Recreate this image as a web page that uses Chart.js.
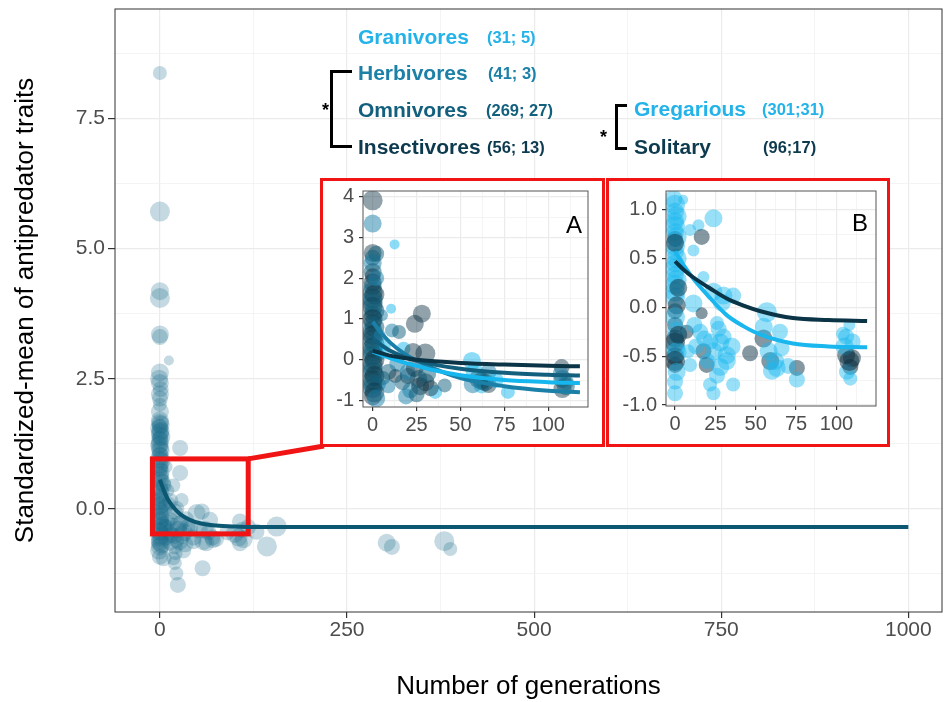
<!DOCTYPE html>
<html>
<head>
<meta charset="utf-8">
<script src="https://cdn.jsdelivr.net/npm/chart.js@4.4.0/dist/chart.umd.min.js"></script>
<style>
  html, body { margin: 0; padding: 0; background: #fff; }
  body { width: 945px; height: 702px; position: relative; overflow: hidden; font-family: "Liberation Sans", Arial, sans-serif; }
  #main { position: absolute; left: 0; top: 0; }
  .inset { position: absolute; top: 178px; height: 263px; border: 3px solid #f01414; background: #fff; }
  .inset canvas { display: block; }
  .lbl { position: absolute; font-weight: bold; white-space: nowrap; line-height: 24px; }
  .name { font-size: 21px; }
  .num { font-size: 16.5px; }
  .bracket { position: absolute; border: 3px solid #000; border-right: none; }
  .star { position: absolute; font-weight: bold; font-size: 18px; line-height: 18px; color: #000; }
  .tag { position: absolute; font-size: 24px; line-height: 24px; color: #000; }
</style>
</head>
<body>
<canvas id="main" width="945" height="702"></canvas>
<div class="inset" style="left:320px; width:279px;"><canvas id="insetA" width="279" height="263"></canvas></div>
<div class="inset" style="left:606px; width:278px;"><canvas id="insetB" width="278" height="263"></canvas></div>
<div class="tag" style="left:566px; top:213px;">A</div>
<div class="tag" style="left:852px; top:211px;">B</div>

<div class="lbl name" style="left:358px; top:25px; color:#23b3e9;">Granivores</div>
<div class="lbl num" style="left:487px; top:25px; color:#23b3e9;">(31; 5)</div>
<div class="lbl name" style="left:358px; top:61px; color:#1c80a7;">Herbivores</div>
<div class="lbl num" style="left:488px; top:61px; color:#1c80a7;">(41; 3)</div>
<div class="lbl name" style="left:358px; top:98px; color:#135f7e;">Omnivores</div>
<div class="lbl num" style="left:486px; top:98px; color:#135f7e;">(269; 27)</div>
<div class="lbl name" style="left:358px; top:135px; color:#0d3a4e;">Insectivores</div>
<div class="lbl num" style="left:487px; top:135px; color:#0d3a4e;">(56; 13)</div>
<div class="bracket" style="left:330px; top:70px; width:19px; height:72px;"></div>
<div class="star" style="left:322px; top:101px;">*</div>

<div class="lbl name" style="left:634px; top:97px; color:#23b3e9;">Gregarious</div>
<div class="lbl num" style="left:762px; top:97px; color:#23b3e9;">(301;31)</div>
<div class="lbl name" style="left:634px; top:135px; color:#0d3a4e;">Solitary</div>
<div class="lbl num" style="left:763px; top:135px; color:#0d3a4e;">(96;17)</div>
<div class="bracket" style="left:615px; top:104px; width:9px; height:40px;"></div>
<div class="star" style="left:600px; top:128px;">*</div>

<script>
// ---- main panel: all studies ----
const mainX = [0, 0, 0, 0, 0, 0, 12, 0, -1, 0, 1, 0, 0, 0, 0, 0, 0, 1, 0, 0, 0, 27, 0, 0, 0, 9, 0, 0, 27, 0,
               0, 5, 0, 0, 29, 0, 12, 0, 0, 20, 49, 56, 0, 15, 35, 67, 107, 0, 25, 0, 156, 40, 60, 110, 0, 129, 15, 30, 0, 70,
               105, 22, 71, 0, 62, 107, 303, 310, 380, 388, 0, 20, 143, 31, 0, 20, 22, 24, 57, 8, 45, 90,
               0, 1, -1, 0, 2, 0, -1, 1, 0, 2, -1, 1, 0, 3, -1, 1, 0, 2, -1, 1, 0, 3, -1, 1, 0, 2, -1,
               6, 8, 10, 12, 14, 17, 19, 21, 24, 26, 28, 32, 34, 37, 8, 10, 14, 18, 22, 45, 52, 58, 65, 75, 100, 112, 118, 5, 18];
const mainY = [8.37, 5.71, 4.18, 4.05, 3.35, 3.30, 2.85, 2.62, 2.50, 2.42, 2.30, 2.20, 2.12, 2.00, 1.87, 1.65, 1.58, 1.50, 1.42, 1.35, 1.25, 1.17, 1.15, 1.05, 0.95, 0.81, 0.85, 0.75, 0.69, 0.65,
               0.55, 0.45, 0.35, 0.25, 0.17, 0.15, 0.10, 0.05, -0.05, -0.05, -0.08, -0.05, -0.15, -0.20, -0.20, -0.21, -0.24, -0.25, -0.30, -0.35, -0.34, -0.38, -0.40, -0.40, -0.45, -0.44, -0.50, -0.50, -0.55, -0.55,
               -0.55, -0.60, -0.60, -0.65, -0.66, -0.66, -0.65, -0.73, -0.62, -0.77, -0.72, -0.72, -0.72, -0.80, -0.92, -1.04, -1.24, -1.46, -1.14, -0.35, -0.62, -0.45,
               1.70, 1.62, 1.55, 1.47, 1.38, 1.31, 1.22, 1.12, 1.01, 0.92, 0.80, 0.71, 0.60, 0.50, 0.40, 0.30, 0.20, 0.08, -0.02, -0.12, -0.22, -0.33, -0.42, -0.52, -0.61, -0.68, -0.80,
               -0.35, -0.55, -0.25, -0.45, -0.65, -0.32, -0.52, -0.85, -0.40, -0.62, -0.28, -0.45, -0.68, -0.35, 0.05, 0.35, 0.15, 0.45, 0.00, -0.55, -0.40, -0.62, -0.45, -0.58, -0.48, -0.58, -0.35, -0.95, -0.95];
const mainW = [6, 9, 8, 9, 8, 7, 4, 8, 8, 8, 7, 8, 7, 6, 8, 8, 7, 8, 8, 7, 8, 7, 8, 7, 8, 5, 8, 7, 7, 8,
               8, 7, 8, 7, 6, 8, 6, 8, 8, 7, 8, 7, 8, 6, 7, 7, 7, 8, 8, 8, 9, 7, 8, 7, 8, 7, 7, 8, 8, 7,
               8, 7, 7, 8, 7, 7, 8, 7, 9, 6, 8, 7, 9, 7, 7, 6, 6, 7, 7, 7, 7, 7,
               8, 8, 8, 8, 8, 8, 8, 8, 8, 8, 8, 8, 8, 8, 8, 8, 8, 8, 8, 8, 8, 8, 8, 8, 8, 8, 8,
               7, 7, 7, 7, 7, 7, 7, 6, 8, 8, 7, 8, 7, 7, 7, 6, 7, 6, 7, 7, 8, 8, 7, 7, 8, 8, 7, 7, 6];
const mainFitX = [0, 4, 10, 18, 27, 40, 55, 75, 100, 130, 200, 1000];
const mainFitY = [0.56, 0.40, 0.20, 0.03, -0.10, -0.21, -0.28, -0.32, -0.34, -0.35, -0.35, -0.35];
const zoomBox = { xMin: -10, xMax: 118, yMin: -0.48, yMax: 0.96 };

const mainXTicks = [0, 125, 250, 375, 500, 625, 750, 875, 1000];
const mainXLabels = [0, 250, 500, 750, 1000];
const mainYTicks = [-1.25, 0, 1.25, 2.5, 3.75, 5, 6.25, 7.5, 8.75];
const mainYLabels = [0, 2.5, 5, 7.5];

// ---- inset A: diet (0 Granivores, 1 Herbivores, 2 Omnivores, 3 Insectivores) ----
const diets = ['Granivores', 'Herbivores', 'Omnivores', 'Insectivores'];
const aX = [0, 0, 12.5, 0, 0, 0, 0, 0, 0, 0, 0, 0, 10.5, 0, 5.3, 28, 24, 11, 15, 0,
            0, 0, 0, 0, 0, 0, 0, 0, 0, 17.6, 23, 30, 9, 14, 26, 30, 21.4, 35.6, 41, 56.5,
            60, 62, 66, 77, 107.6, 108, 108, 110, 3, 5, 64, 20,
            0, 1, 0, 1, 0, 1, 0, 1, 0, 1, 0, 1, 0, 1, 2, 2, 2,
            6, 9, 13, 17, 20, 24, 27, 31, 33, 19, 25, 4, 7,
            58, 62, 66, 70, 57, 107, 110];
const aY = [3.91, 3.34, 2.83, 2.62, 2.50, 2.37, 2.15, 2.05, 1.90, 1.66, 1.50, 1.30, 1.25, 1.10, 1.09, 1.13, 0.88, 0.72, 0.68, 0.90,
            0.70, 0.50, 0.30, 0.10, -0.10, -0.30, -0.50, -0.70, -0.90, 0.27, 0.19, 0.15, -0.30, -0.10, -0.47, -0.55, -0.75, -0.79, -0.63, -0.03,
            -0.47, -0.63, -0.30, -0.79, -0.18, -0.47, -0.72, -0.55, -0.60, 0.20, -0.55, -0.40,
            1.80, 1.60, 1.40, 1.20, 1.00, 0.80, 0.60, 0.40, 0.20, 0.00, -0.20, -0.40, -0.60, -0.80, -0.95, 2.00, 2.60,
            -0.45, -0.65, -0.40, -0.55, -0.30, -0.20, -0.65, -0.35, -0.70, -0.90, -0.85, 0.60, 0.35,
            -0.30, -0.52, -0.62, -0.50, -0.60, -0.35, -0.65];
const aW = [9, 8, 4, 8, 7, 8, 8, 7, 8, 9, 9, 9, 4, 8, 5, 8, 8, 6, 6, 8,
            9, 9, 9, 9, 9, 9, 9, 9, 8, 6, 8, 9, 7, 7, 8, 8, 7, 6, 6, 8,
            8, 7, 7, 6, 7, 8, 8, 7, 7, 7, 8, 7,
            8, 9, 9, 9, 9, 9, 9, 9, 9, 9, 9, 9, 9, 9, 8, 7, 7,
            6, 6, 6, 7, 7, 8, 8, 8, 7, 7, 7, 5, 5,
            8, 8, 7, 7, 8, 7, 8];
const aDiet = [3, 1, 0, 3, 2, 1, 2, 3, 3, 2, 2, 3, 0, 2, 1, 3, 3, 1, 2, 2,
               2, 2, 3, 2, 3, 2, 3, 2, 3, 0, 3, 3, 2, 1, 2, 3, 1, 0, 2, 0,
               3, 0, 1, 0, 3, 2, 3, 1, 1, 0, 2, 3,
               2, 3, 2, 2, 3, 2, 3, 2, 2, 3, 2, 3, 2, 3, 1, 1, 2,
               2, 1, 3, 2, 1, 3, 3, 2, 3, 1, 2, 1, 0,
               0, 2, 3, 0, 1, 1, 2];
const aFitX = [0, 5, 10, 18, 25, 35, 50, 75, 100, 118];
const aFitGran = [0.20, 0.12, 0.04, -0.07, -0.15, -0.26, -0.38, -0.50, -0.55, -0.57];
const aFitHerb = [0.93, 0.65, 0.42, 0.15, -0.02, -0.22, -0.45, -0.65, -0.76, -0.80];
const aFitOmni = [0.52, 0.36, 0.22, 0.07, -0.02, -0.12, -0.22, -0.32, -0.37, -0.39];
const aFitIns = [0.22, 0.16, 0.10, 0.04, 0.00, -0.04, -0.08, -0.12, -0.15, -0.16];

// ---- inset B: sociality (0 Gregarious, 1 Solitary) ----
const bX = [-1, 5, 0, 0, 0, 23.8, 14.5, 9.3, 16.5, 11.4, 0, 0, 0, 0, 0, 17.6, 0, 23.8, 30, 11.4,
            0, 0, 16.5, 26, 15.5, 7.2, 56.9, 65, 54.8, 0, 0, 0, 0, 17.6, 46.5, 32, 19.6, 28, 59, 63,
            75.5, 75.5, 104, 108, 106, 109.6, 108.6, 106.5, 108.6, 21.7, 0, 0, 23.8, 36, 9.3, 22, 30, 35,
            0, 1, 0, 1, 0, 1, 0, 1, 0, 1, 0, 1, 0, 1, 0, 1, 0, 2, 2,
            13, 18, 24, 28, 32, 26, 20, 12, 8, 29, 36, 27,
            58, 62, 66, 70, 60, 55, 105, 110, 108, 106];
const bY = [1.11, 1.10, 0.98, 0.88, 0.77, 0.91, 0.84, 0.79, 0.72, 0.58, 0.70, 0.57, 0.45, 0.33, 0.23, 0.31, 0.16, 0.16, 0.12, 0.04,
            -0.04, -0.18, -0.06, -0.16, -0.25, -0.25, -0.05, -0.25, -0.32, -0.32, -0.42, -0.50, -0.59, -0.45, -0.47, -0.49, -0.59, -0.61, -0.55, -0.62,
            -0.62, -0.74, -0.27, -0.18, -0.49, -0.52, -0.61, -0.66, -0.73, -0.79, -0.76, -0.88, -0.88, -0.79, -0.59, -0.35, -0.30, -0.40,
            1.05, 0.93, 0.83, 0.72, 0.63, 0.50, 0.40, 0.28, 0.10, 0.02, -0.10, -0.25, -0.36, -0.46, -0.55, -0.66, 0.66, -0.28, 0.20,
            -0.40, -0.32, -0.45, -0.36, -0.55, -0.70, -0.55, -0.18, -0.45, 0.05, 0.12, -0.22,
            -0.45, -0.55, -0.42, -0.60, -0.65, -0.20, -0.40, -0.35, -0.55, -0.30];
const bW = [8, 4, 8, 8, 8, 8, 5, 5, 7, 5, 7, 8, 8, 8, 9, 5, 9, 8, 8, 8,
            7, 7, 5, 6, 7, 6, 9, 7, 8, 8, 9, 8, 7, 7, 7, 8, 7, 8, 8, 8,
            7, 7, 6, 5, 8, 8, 7, 7, 6, 6, 7, 7, 6, 6, 6, 7, 7, 8,
            9, 9, 9, 9, 9, 9, 9, 9, 9, 8, 9, 9, 9, 9, 9, 8, 8, 8, 8,
            7, 7, 8, 8, 8, 7, 7, 7, 6, 8, 7, 7,
            8, 8, 7, 7, 8, 8, 8, 7, 9, 7];
const bSocial = [0, 0, 0, 0, 0, 0, 0, 0, 1, 0, 1, 0, 0, 0, 0, 0, 0, 0, 0, 0,
                 1, 1, 1, 0, 0, 1, 0, 0, 1, 1, 0, 1, 1, 1, 1, 0, 1, 0, 1, 0,
                 1, 0, 0, 0, 1, 1, 1, 0, 0, 0, 0, 0, 0, 0, 0, 0, 0, 0,
                 0, 0, 0, 0, 0, 0, 0, 0, 0, 1, 0, 0, 1, 0, 1, 0, 1, 1, 1,
                 0, 0, 0, 0, 0, 0, 0, 0, 0, 0, 0, 0,
                 0, 0, 0, 0, 0, 0, 0, 0, 1, 0];
const bFitX = [0, 5, 11, 22, 32, 42, 53, 73, 95, 119];
const bFitGreg = [0.57, 0.44, 0.30, 0.09, -0.08, -0.19, -0.28, -0.37, -0.40, -0.41];
const bFitSol = [0.47, 0.39, 0.31, 0.19, 0.09, 0.02, -0.04, -0.11, -0.13, -0.14];

const insetXTicks = [0, 12.5, 25, 37.5, 50, 62.5, 75, 87.5, 100, 112.5];
const insetXLabels = [0, 25, 50, 75, 100];
const aYTicks = [-1, -0.5, 0, 0.5, 1, 1.5, 2, 2.5, 3, 3.5, 4];
const aYLabels = [-1, 0, 1, 2, 3, 4];
const bYTicks = [-1, -0.75, -0.5, -0.25, 0, 0.25, 0.5, 0.75, 1];
const bYLabels = [-1, -0.5, 0, 0.5, 1];

const COLORS = {
    mainPoint: 'rgba(18, 105, 135, 0.25)',
    mainLine: '#0c5872',
    dietPoint: ['rgba(0, 178, 238, 0.45)', 'rgba(26, 128, 170, 0.5)', 'rgba(16, 94, 122, 0.5)', 'rgba(12, 48, 66, 0.45)'],
    dietLine: ['#16b6ee', '#1a80a8', '#135f7e', '#0b3447'],
    socialPoint: ['rgba(26, 183, 239, 0.45)', 'rgba(12, 48, 66, 0.5)'],
    socialLine: ['#1ab6ee', '#0b3447'],
    red: '#f01414',
    grid: '#ebebeb',
    tickText: '#4d4d4d'
};

Chart.defaults.font.family = '"Liberation Sans", Arial, sans-serif';

const pts = (xs, ys) => xs.map((x, i) => ({ x, y: ys[i] }));
const radius = w => ctx => 1 + w[ctx.dataIndex];

function axisTicks(list) {
    return axis => { axis.ticks = list.map(v => ({ value: v })); };
}

function gridFor(majors, tickLen) {
    return {
        color: c => majors.includes(c.tick.value) ? COLORS.grid : '#f1f1f1',
        lineWidth: c => majors.includes(c.tick.value) ? 1.2 : 0.8,
        tickColor: c => majors.includes(c.tick.value) ? '#333' : 'rgba(0,0,0,0)',
        tickLength: tickLen,
        drawTicks: true
    };
}

// fix axis box sizes and drop the label overhang padding
const fitX = h => s => { s.height = h; s.paddingLeft = 0; s.paddingRight = 0; };
const fitY = w => s => { s.width = w; s.paddingTop = 0; s.paddingBottom = 0; };

const panelBorder = {
    id: 'panelBorder',
    afterDraw(chart, args, opts) {
        const { ctx, chartArea: a } = chart;
        ctx.save();
        ctx.strokeStyle = opts.color || '#333';
        ctx.lineWidth = 1;
        ctx.strokeRect(a.left, a.top, a.right - a.left, a.bottom - a.top);
        ctx.restore();
    }
};

// red zoom box on the main panel, drawn after the points but under the fit line
const zoomFrame = {
    id: 'zoomFrame',
    afterDatasetDraw(chart, args) {
        if (args.index !== 0) return;
        const { ctx, scales: { x, y } } = chart;
        const l = x.getPixelForValue(zoomBox.xMin), r = x.getPixelForValue(zoomBox.xMax);
        const t = y.getPixelForValue(zoomBox.yMax), b = y.getPixelForValue(zoomBox.yMin);
        ctx.save();
        ctx.strokeStyle = COLORS.red;
        ctx.lineWidth = 5;
        ctx.strokeRect(l, t, r - l, b - t);
        ctx.beginPath();
        ctx.moveTo(r, t);
        ctx.lineTo(324, 446);
        ctx.stroke();
        ctx.restore();
    }
};

new Chart(document.getElementById('main'), {
    type: 'scatter',
    data: {
        datasets: [
            {
                data: pts(mainX, mainY),
                backgroundColor: COLORS.mainPoint,
                borderWidth: 0,
                pointRadius: radius(mainW),
                order: 1
            },
            {
                data: pts(mainFitX, mainFitY),
                showLine: true,
                borderColor: COLORS.mainLine,
                borderWidth: 4,
                pointRadius: 0,
                cubicInterpolationMode: 'monotone',
                order: 0
            }
        ]
    },
    options: {
        responsive: false,
        animation: false,
        layout: { autoPadding: false, padding: { top: 9, right: 3, left: 0, bottom: 0 } },
        plugins: { legend: { display: false }, tooltip: { enabled: false }, panelBorder: { color: '#333' } },
        scales: {
            x: {
                type: 'linear', min: -60, max: 1045,
                afterBuildTicks: axisTicks(mainXTicks),
                afterFit: fitX(90),
                ticks: {
                    autoSkip: false, maxRotation: 0, minRotation: 0, padding: 0,
                    color: COLORS.tickText,
                    font: { family: '"Liberation Sans Narrow", "Liberation Sans", Arial, sans-serif', size: 21 },
                    callback: v => mainXLabels.includes(v) ? String(v) : ''
                },
                grid: gridFor(mainXLabels, 6),
                border: { display: false },
                title: { display: true, text: 'Number of generations', color: '#000', font: { size: 26 }, padding: { top: 0, bottom: 0 } }
            },
            y: {
                type: 'linear', min: -1.98, max: 9.6,
                afterBuildTicks: axisTicks(mainYTicks),
                afterFit: fitY(115),
                ticks: {
                    autoSkip: false, padding: 3,
                    color: COLORS.tickText,
                    font: { size: 21 },
                    callback: v => mainYLabels.includes(v) ? v.toFixed(1) : ''
                },
                grid: gridFor(mainYLabels, 7),
                border: { display: false },
                title: { display: true, text: 'Standardized-mean of antipredator traits', color: '#000', font: { size: 26 }, padding: { top: 10, bottom: 0 } }
            }
        }
    },
    plugins: [zoomFrame, panelBorder]
});

function insetChart(id, cfg) {
    return new Chart(document.getElementById(id), {
        type: 'scatter',
        data: { datasets: cfg.datasets },
        options: {
            responsive: false,
            animation: false,
            layout: { autoPadding: false, padding: { top: 10, right: cfg.padRight, left: 0, bottom: 0 } },
            plugins: { legend: { display: false }, tooltip: { enabled: false }, panelBorder: { color: '#555' } },
            scales: {
                x: {
                    type: 'linear', min: cfg.xMin, max: cfg.xMax,
                    afterBuildTicks: axisTicks(insetXTicks),
                    afterFit: fitX(cfg.xAxisH),
                    ticks: {
                        autoSkip: false, maxRotation: 0, minRotation: 0, padding: 2,
                        color: COLORS.tickText, font: { size: 20 },
                        callback: v => insetXLabels.includes(v) ? String(v) : ''
                    },
                    grid: gridFor(insetXLabels, 4),
                    border: { display: false }
                },
                y: {
                    type: 'linear', min: cfg.yMin, max: cfg.yMax,
                    afterBuildTicks: axisTicks(cfg.yTicks),
                    afterFit: fitY(cfg.yAxisW),
                    ticks: {
                        autoSkip: false, padding: 5,
                        color: COLORS.tickText, font: { size: 20 },
                        callback: v => cfg.yLabels.includes(v) ? cfg.fmt(v) : ''
                    },
                    grid: gridFor(cfg.yLabels, 4),
                    border: { display: false }
                }
            }
        },
        plugins: [panelBorder]
    });
}

const fitLine = (xs, ys, color, order) => ({
    data: pts(xs, ys), showLine: true, borderColor: color, borderWidth: 4,
    pointRadius: 0, cubicInterpolationMode: 'monotone', order
});

insetChart('insetA', {
    xMin: -5.5, xMax: 122.6, yMin: -1.16, yMax: 4.14,
    yTicks: aYTicks, yLabels: aYLabels, fmt: v => String(v),
    padRight: 14, xAxisH: 37, yAxisW: 40,
    datasets: [
        {
            data: pts(aX, aY),
            backgroundColor: c => COLORS.dietPoint[aDiet[c.dataIndex]],
            borderWidth: 0,
            pointRadius: radius(aW),
            order: 5
        },
        fitLine(aFitX, aFitHerb, COLORS.dietLine[1], 4),
        fitLine(aFitX, aFitGran, COLORS.dietLine[0], 3),
        fitLine(aFitX, aFitOmni, COLORS.dietLine[2], 2),
        fitLine(aFitX, aFitIns, COLORS.dietLine[3], 1)
    ]
});

insetChart('insetB', {
    xMin: -5.6, xMax: 124.5, yMin: -1.01, yMax: 1.19,
    yTicks: bYTicks, yLabels: bYLabels, fmt: v => v.toFixed(1),
    padRight: 11, xAxisH: 38, yAxisW: 57,
    datasets: [
        {
            data: pts(bX, bY),
            backgroundColor: c => COLORS.socialPoint[bSocial[c.dataIndex]],
            borderWidth: 0,
            pointRadius: radius(bW),
            order: 5
        },
        fitLine(bFitX, bFitGreg, COLORS.socialLine[0], 2),
        fitLine(bFitX, bFitSol, COLORS.socialLine[1], 1)
    ]
});
</script>
</body>
</html>
